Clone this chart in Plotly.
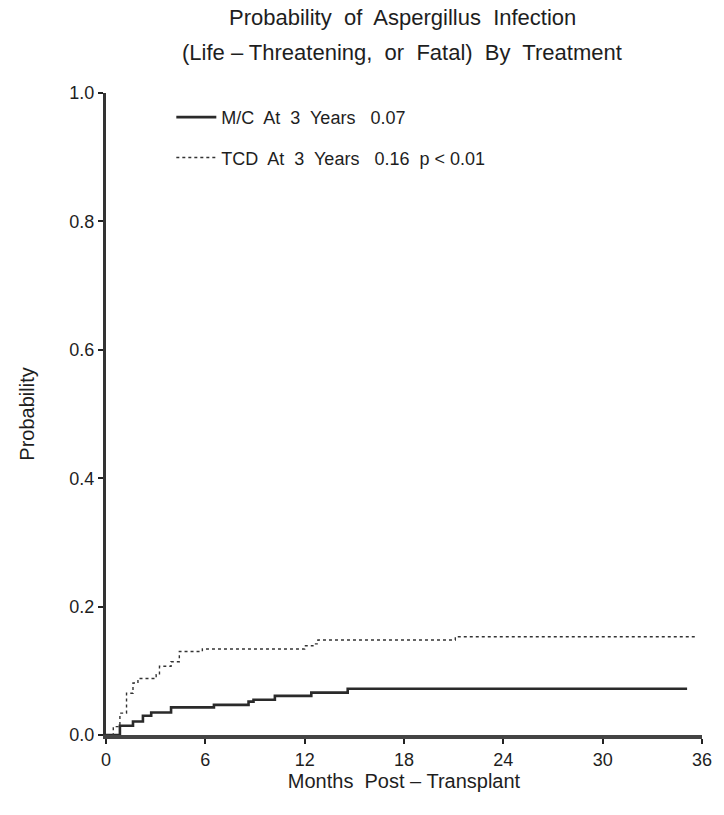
import plotly.graph_objects as go

# Data (months, cumulative probability)
mc_months = [0, 0.44, 0.84, 1.63, 2.23, 2.73, 3.93, 6.52, 8.61, 8.91, 10.2, 12.4, 14.6, 35.1]
mc_prob = [0, 0.0, 0.0145, 0.021, 0.030, 0.035, 0.043, 0.047, 0.052, 0.055, 0.061, 0.066, 0.072, 0.072]

tcd_months = [0, 0.1, 0.44, 0.84, 1.24, 1.63, 1.93, 3.03, 3.23, 3.93, 4.43, 5.82, 12.0, 12.5, 12.8, 21.1, 35.7]
tcd_prob = [0, 0.0, 0.013, 0.034, 0.065, 0.081, 0.088, 0.094, 0.107, 0.114, 0.130, 0.134, 0.139, 0.142, 0.148, 0.153, 0.153]

x_ticks = [0, 6, 12, 18, 24, 30, 36]
y_ticks = [0.0, 0.2, 0.4, 0.6, 0.8, 1.0]
y_tick_labels = ["0.0", "0.2", "0.4", "0.6", "0.8", "1.0"]

mc_label = "M/C  At  3  Years   0.07"
tcd_label = "TCD  At  3  Years   0.16  p < 0.01"
title_lines = ["Probability  of  Aspergillus  Infection",
               "(Life – Threatening,  or  Fatal)  By  Treatment"]

FONT = "Liberation Sans, Arial, sans-serif"
INK = "#1e1e1e"

fig = go.Figure()
fig.add_trace(go.Scatter(
    x=mc_months, y=mc_prob, mode="lines", line=dict(shape="hv", color="#2a2a2a", width=2.6),
    name=mc_label, legendgroup="mc"))
fig.add_trace(go.Scatter(
    x=tcd_months, y=tcd_prob, mode="lines", line=dict(shape="hv", color="#333", width=1.4, dash="dot"),
    name=tcd_label, legendgroup="tcd"))

fig.update_layout(
    width=724, height=815,
    paper_bgcolor="white", plot_bgcolor="white",
    margin=dict(l=106, r=16, t=93, b=80),
    font=dict(family=FONT, size=18, color=INK),
    legend=dict(x=0.1096, y=0.9907, xanchor="left", yanchor="top", bgcolor="rgba(0,0,0,0)",
                font=dict(family=FONT, size=18, color=INK), tracegroupgap=14,
                itemwidth=40),
    showlegend=True,
)
for i, (line, py) in enumerate(zip(title_lines, [18, 52])):
    fig.add_annotation(text=line, xref="paper", yref="paper",
                       x=0.497, y=(735 - py) / 642, xanchor="center", yanchor="middle",
                       showarrow=False, font=dict(family=FONT, size=22, color=INK))

fig.update_xaxes(
    range=[0, 36], tickvals=x_ticks, ticktext=[str(v) for v in x_ticks],
    showgrid=False, zeroline=False, showline=True, linecolor="#444", linewidth=4,
    ticks="outside", ticklen=5, tickwidth=2, tickcolor="#222",
    tickfont=dict(size=18), title=dict(text="Months  Post – Transplant", font=dict(size=20), standoff=2),
)
fig.update_yaxes(
    range=[0, 1], tickvals=y_ticks, ticktext=y_tick_labels,
    showgrid=False, zeroline=False,
    showline=True, linecolor="#333", linewidth=3,
    ticks="outside", ticklen=5, tickwidth=2, tickcolor="#222",
    tickfont=dict(size=18), title=dict(text="Probability", font=dict(size=20), standoff=30),
)

fig.write_html("out.html")
